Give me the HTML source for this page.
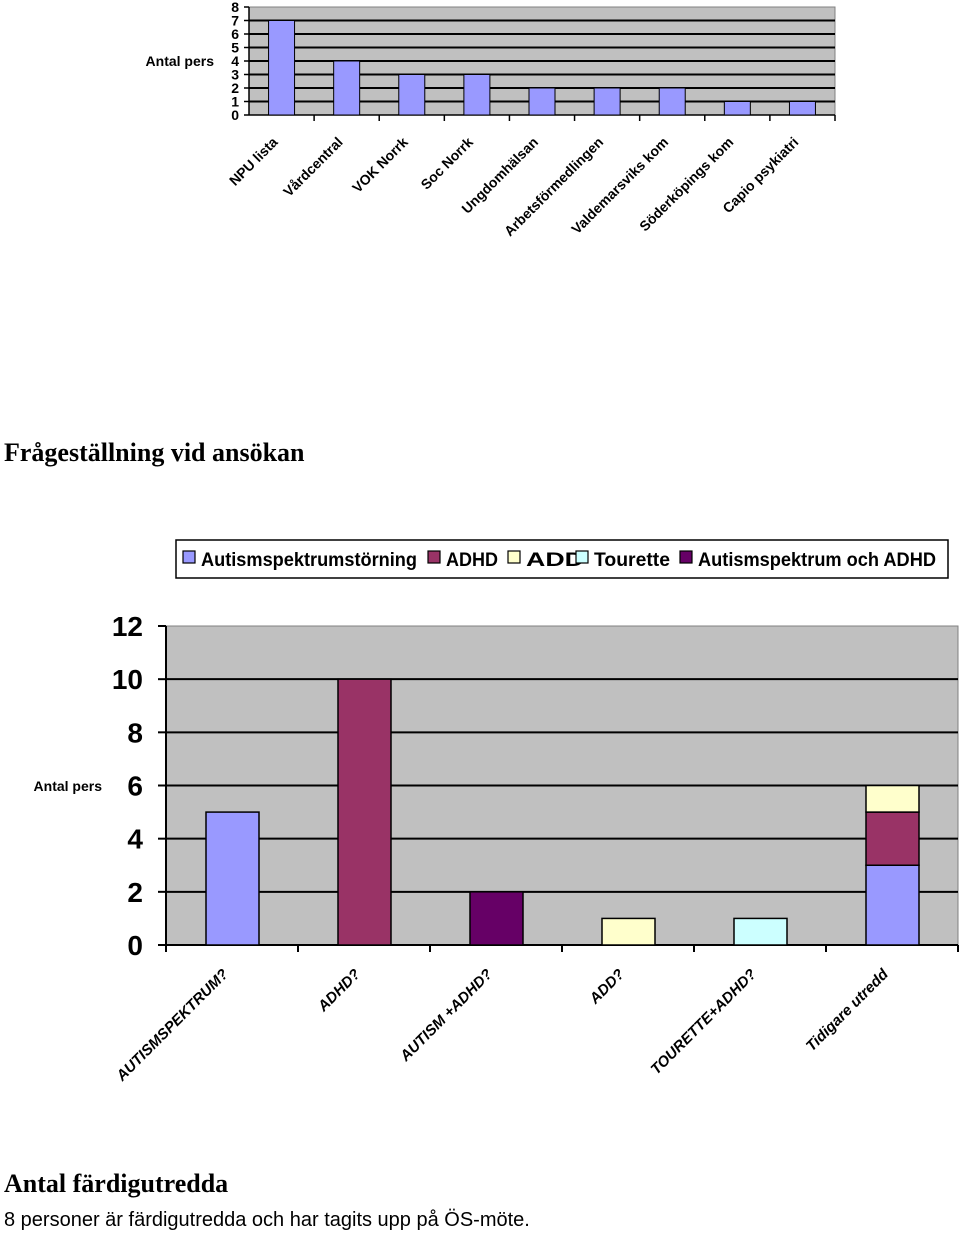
<!DOCTYPE html>
<html><head><meta charset="utf-8"><style>
html,body{margin:0;padding:0;background:#fff;width:960px;height:1233px;overflow:hidden}
svg{display:block}
text{font-family:"Liberation Sans",sans-serif}
</style></head><body>
<svg id="s" width="960" height="1233" xmlns="http://www.w3.org/2000/svg">
<g id="top"></g>
<text x="4" y="461" font-family="Liberation Serif" font-weight="bold" font-size="26" style="font-family:'Liberation Serif',serif">Frågeställning vid ansökan</text>
<g id="legend"></g>
<g id="bot"></g>
<text x="4" y="1192" font-weight="bold" font-size="26" style="font-family:'Liberation Serif',serif">Antal färdigutredda</text>
<text x="4" y="1226" font-size="20">8 personer är färdigutredda och har tagits upp på ÖS-möte.</text>
</svg>
<script>
const topCategories=["NPU lista","Vårdcentral","VOK Norrk","Soc Norrk","Ungdomhälsan","Arbetsförmedlingen","Valdemarsviks  kom","Söderköpings kom","Capio psykiatri"];
const topValues=[7,4,3,3,2,2,2,1,1];
const topTicks=[0,1,2,3,4,5,6,7,8];
const botCategories=["AUTISMSPEKTRUM?","ADHD?","AUTISM +ADHD?","ADD?","TOURETTE+ADHD?","Tidigare utredd"];
const seriesNames=["Autismspektrumstörning","ADHD","ADD","Tourette","Autismspektrum och ADHD"];
const seriesAutism=[5,0,0,0,0,3];
const seriesADHD=[0,10,0,0,0,2];
const seriesADD=[0,0,0,1,0,1];
const seriesTourette=[0,0,0,0,1,0];
const seriesAutADHD=[0,0,2,0,0,0];
const botTicks=[0,2,4,6,8,10,12];

const NS="http://www.w3.org/2000/svg";
function mk(p,tag,a,txt){const e=document.createElementNS(NS,tag);for(const k in a)e.setAttribute(k,a[k]);if(txt!=null)e.textContent=txt;p.appendChild(e);return e;}

// top chart
(function(){
const g=document.getElementById('top');
const L=249,R=835,T=7,B=115,max=8;
const y=v=>B-(B-T)*v/max;const bw=(R-L)/topCategories.length;
let e=mk(g,'rect',{x:L,y:T,width:R-L,height:B-T,fill:'#c0c0c0',stroke:'#808080'});

topTicks.forEach(t=>{
 if(t>0&&t<max){e=mk(g,'line',{x1:L,x2:R,y1:y(t),y2:y(t),stroke:'#000','stroke-width':2});}
 mk(g,'line',{x1:L-5,x2:L,y1:y(t),y2:y(t),stroke:'#000','stroke-width':1.5});
 e=mk(g,'text',{x:L-10,y:y(t)+5,'text-anchor':'end','font-size':14,'font-weight':'bold'},String(t));
 
});
mk(g,'line',{x1:L,x2:L,y1:T,y2:B,stroke:'#000','stroke-width':1.5});
mk(g,'line',{x1:L,x2:R,y1:B,y2:B,stroke:'#000','stroke-width':1.5});
e=mk(g,'text',{x:214,y:66,'text-anchor':'end','font-size':14,'font-weight':'bold'},'Antal pers');

topCategories.forEach((c,i)=>{
 const cx=L+bw*(i+.5);
 mk(g,'line',{x1:L+bw*(i+1),x2:L+bw*(i+1),y1:B,y2:B+6,stroke:'#000','stroke-width':1.5});
 e=mk(g,'rect',{x:cx-13,y:y(topValues[i]),width:26,height:B-y(topValues[i]),fill:'#9999ff',stroke:'#000','stroke-width':1});
 
 e=mk(g,'text',{x:0,y:0,'text-anchor':'end','font-size':14,'font-weight':'bold',transform:`translate(${cx-3},${B+28}) rotate(-45)`},c);
 
});
})();

// legend
const colors=['#9999ff','#993366','#ffffcc','#ccffff','#660066'];
(function(){
const g=document.getElementById('legend');
let e=mk(g,'rect',{x:176,y:540,width:772,height:38,fill:'#fff',stroke:'#000','stroke-width':1.5});

const xs=[183,428,508,576,680];const lens=[216,52,58,76,238];
seriesNames.forEach((n,i)=>{
 e=mk(g,'rect',{x:xs[i],y:551,width:12,height:12,fill:colors[i],stroke:'#000','stroke-width':1.2});
 
 e=mk(g,'text',{x:xs[i]+18,y:566,'font-size':19,'font-weight':'bold',textLength:lens[i],lengthAdjust:'spacingAndGlyphs'},n);
 
});
})();

// bottom chart
(function(){
const g=document.getElementById('bot');
const L=166,R=958,T=626,B=945,max=12;
const y=v=>B-(B-T)*v/max;const bw=(R-L)/botCategories.length;
let e=mk(g,'rect',{x:L,y:T,width:R-L,height:B-T,fill:'#c0c0c0',stroke:'#808080'});

botTicks.forEach(t=>{
 if(t>0&&t<max){e=mk(g,'line',{x1:L,x2:R,y1:y(t),y2:y(t),stroke:'#000','stroke-width':2});}
 mk(g,'line',{x1:L-8,x2:L,y1:y(t),y2:y(t),stroke:'#000','stroke-width':2});
 e=mk(g,'text',{x:143,y:y(t)+10,'text-anchor':'end','font-size':28,'font-weight':'bold'},String(t));
 
});
mk(g,'line',{x1:L,x2:L,y1:T,y2:B,stroke:'#000','stroke-width':2});
mk(g,'line',{x1:L,x2:R,y1:B,y2:B,stroke:'#000','stroke-width':2});
e=mk(g,'text',{x:102,y:791,'text-anchor':'end','font-size':14,'font-weight':'bold'},'Antal pers');

const series=[seriesAutism,seriesADHD,seriesADD,seriesTourette,seriesAutADHD];
botCategories.forEach((c,i)=>{
 const cx=L+bw*(i+.5);
 mk(g,'line',{x1:L+bw*i,x2:L+bw*i,y1:B,y2:B+7,stroke:'#000','stroke-width':2});
 mk(g,'line',{x1:L+bw*(i+1),x2:L+bw*(i+1),y1:B,y2:B+7,stroke:'#000','stroke-width':2});
 let acc=0;
 series.forEach((s,k)=>{
  const v=s[i];if(!v)return;
  e=mk(g,'rect',{x:cx-26,y:y(acc+v),width:53,height:y(acc)-y(acc+v),fill:colors[k],stroke:'#000','stroke-width':1.5});
  
  
  acc+=v;
 });
 e=mk(g,'text',{x:0,y:0,'text-anchor':'end','font-size':15,'font-weight':'bold','font-style':'italic',transform:`translate(${cx-3},${B+30}) rotate(-45)`},c);
 
});
})();
</script>
</body></html>
